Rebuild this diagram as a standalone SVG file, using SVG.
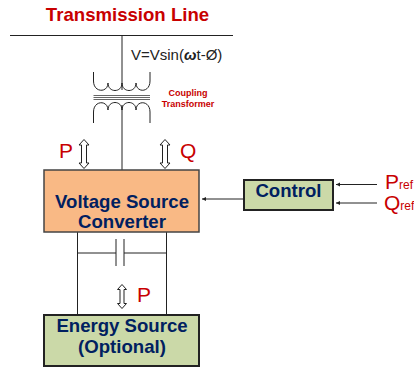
<svg xmlns="http://www.w3.org/2000/svg" width="414" height="367" viewBox="0 0 414 367">
<defs>
<marker id="ah" markerWidth="5" markerHeight="5" refX="4" refY="2" orient="auto" markerUnits="userSpaceOnUse"><path d="M0,2 L4,0 L4,4 Z" transform="rotate(180 2 2)" fill="#222"/></marker>
<path id="da" d="M0,-14.500 L5,-9 L2.500,-9 L2.500,9 L5,9 L0,14.500 L-5,9 L-2.500,9 L-2.500,-9 L-5,-9 Z" fill="#fff" stroke="#222" stroke-width="1"/>
<path id="db" d="M0,-12 L4.500,-7 L2,-7 L2,7 L4.500,7 L0,12 L-4.500,7 L-2,7 L-2,-7 L-4.500,-7 Z" fill="#fff" stroke="#222" stroke-width="1"/>
</defs>
<style>
text{font-family:"Liberation Sans",Arial,sans-serif}
.w{fill:none;stroke:#222;stroke-width:1}
.core{fill:none;stroke:#666;stroke-width:1}
.lab{font-weight:bold;fill:#002060;font-size:18.600px;text-anchor:middle}
.red{fill:#C80000}
.box{stroke-width:2}
</style>
<rect width="414" height="367" fill="#fff"/>
<g id="connectors">
<path class="w" d="M10,35.500H233M122,35.500V90M122,105V170"/>
<path class="w" d="M77.500,232V315M166.500,232V315M77.500,253H116M124,253H166.500M116,239V266M124,239V266"/>
<path class="w" d="M244,199H202" marker-end="url(#ah)"/>
<path class="w" d="M377,184.500H336" marker-end="url(#ah)"/>
<path class="w" d="M377,203H336" marker-end="url(#ah)"/>
<use href="#da" x="84" y="154"/>
<use href="#da" x="165" y="154"/>
<use href="#db" x="122" y="296.500"/>
</g>
<g id="transformer">
<path class="w" d="M93.500,72V81C93.500,93 108,93 108,83C108,93 122,93 122,83C122,93 136,93 136,83C136,93 150,93 150,81V72"/>
<path class="w" d="M93.500,123V112C93.500,100 108,100 108,110C108,100 122,100 122,110C122,100 136,100 136,110C136,100 150,100 150,112V123"/>
<path class="core" d="M93.500,95.500H150M93.500,97.500H150M93.500,99.500H150"/>
</g>
<g id="title"><text x="127.500" y="21" font-size="18.600px" font-weight="bold" text-anchor="middle" class="red">Transmission Line</text></g>
<g id="voltage-label"><text x="131" y="60" font-size="15px" fill="#222">V=Vsin(<tspan font-weight="bold" font-style="italic">ω</tspan>t-Ø)</text></g>
<g id="coupling-label"><text class="red" font-size="9px" font-weight="bold" text-anchor="middle"><tspan x="188" y="96">Coupling</tspan><tspan x="188" y="107">Transformer</tspan></text></g>
<g id="p-q-labels">
<text class="red" x="59" y="158" font-size="21px">P</text>
<text class="red" x="180" y="158" font-size="21px">Q</text>
<text class="red" x="137" y="302" font-size="21px">P</text>
</g>
<g id="vsc">
<rect x="44" y="170" width="155" height="62" fill="#F9B985" stroke="#444" stroke-width="1.500"/>
<text class="lab"><tspan x="122" y="208">Voltage Source</tspan><tspan x="122" y="228">Converter</tspan></text>
</g>
<g id="control">
<rect class="box" x="244" y="180" width="89" height="30" fill="#CBD9A8" stroke="#222"/>
<text class="lab" x="288.500" y="197">Control</text>
</g>
<g id="energy-source">
<rect class="box" x="44" y="315" width="155" height="51" fill="#CBD9A8" stroke="#222"/>
<text class="lab"><tspan x="122" y="332">Energy Source</tspan><tspan x="122" y="353">(Optional)</tspan></text>
</g>
<g id="refs">
<text class="red" x="385" y="189" font-size="21px">P<tspan font-size="12px">ref</tspan></text>
<text class="red" x="384" y="210" font-size="21px">Q<tspan font-size="12px">ref</tspan></text>
</g>
</svg>
